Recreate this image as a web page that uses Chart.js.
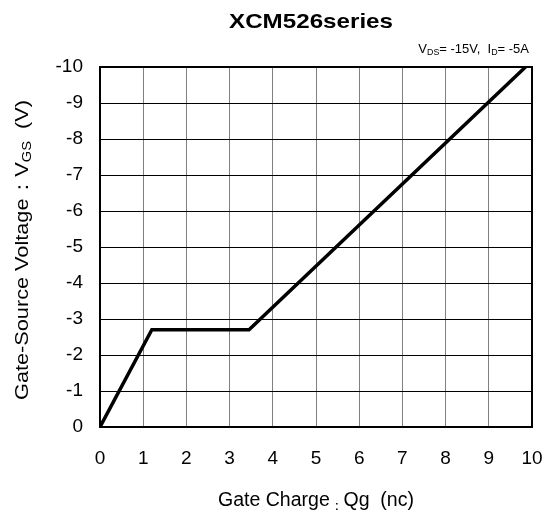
<!DOCTYPE html>
<html>
<head>
<meta charset="utf-8">
<script src="https://cdn.jsdelivr.net/npm/chart.js@4.4.0/dist/chart.umd.min.js"></script>
<style>
  html, body { margin: 0; padding: 0; background: #fff; }
  #wrap { width: 547px; height: 514px; }
</style>
</head>
<body>
<div id="wrap"><canvas id="gateChart" width="547" height="514"></canvas></div>
<script>
// Gate charge curve (nC vs V)
const chargeQg = [0, 1.2, 3.45, 9.85];
const voltageVgs = [0, -2.7, -2.7, -10];
const xTicks = [0, 1, 2, 3, 4, 5, 6, 7, 8, 9, 10];
const yTicks = [0, -1, -2, -3, -4, -5, -6, -7, -8, -9, -10];

const FONT = "'Liberation Sans', Arial, sans-serif";

// text pieces, subscripts smaller and lowered; stretched to a given width
function richWidth(ctx, parts, size, weight) {
    let w = 0;
    parts.forEach(p => {
        ctx.font = `${weight || ''} ${p.sub ? size * 0.68 : size}px ${FONT}`;
        w += ctx.measureText(p.t).width;
    });
    return w;
}
function drawFitted(ctx, parts, x, y, size, width, weight) {
    const natural = richWidth(ctx, parts, size, weight);
    ctx.save();
    ctx.translate(x, y);
    ctx.scale(width ? width / natural : 1, 1);
    let cx = 0;
    parts.forEach(p => {
        const s = p.sub ? size * 0.68 : size;
        ctx.font = `${weight || ''} ${s}px ${FONT}`;
        ctx.fillText(p.t, cx, p.sub ? size * 0.18 : 0);
        cx += ctx.measureText(p.t).width;
    });
    ctx.restore();
}

const labelsPlugin = {
    id: 'labels',
    afterDraw(chart) {
        const ctx = chart.ctx;
        ctx.save();
        ctx.fillStyle = '#000';
        ctx.textBaseline = 'alphabetic';
        ctx.textAlign = 'left';

        drawFitted(ctx, [{t: 'XCM526series'}], 229, 28, 21, 164, 'bold');

        const cond = [{t: 'V'}, {t: 'DS', sub: true}, {t: '= -15V,  I'}, {t: 'D', sub: true}, {t: '= -5A'}];
        drawFitted(ctx, cond, 529 - richWidth(ctx, cond, 13), 53, 13);

        drawFitted(ctx, [{t: 'Gate Charge'}, {t: '：', sub: true}, {t: 'Qg  (nc)'}], 218, 506, 20, 196);

        // y axis title, rotated
        ctx.translate(28, 250);
        ctx.rotate(-Math.PI / 2);
        drawFitted(ctx, [{t: 'Gate-Source Voltage：V'}, {t: 'GS', sub: true}, {t: '  (V)'}],
            -150, 0, 19, 300);
        ctx.restore();
    }
};

new Chart(document.getElementById('gateChart'), {
    type: 'line',
    data: {
        datasets: [{
            data: chargeQg.map((q, i) => ({x: q, y: voltageVgs[i]})),
            borderColor: '#000',
            borderWidth: 3.5,
            pointRadius: 0,
            tension: 0,
            fill: false
        }]
    },
    options: {
        responsive: false,
        animation: false,
        devicePixelRatio: 1,
        layout: { padding: { top: 67, right: 15, left: 0, bottom: 0 } },
        plugins: { legend: { display: false }, tooltip: { enabled: false } },
        scales: {
            x: {
                type: 'linear',
                min: 0, max: 10,
                afterFit: s => { s.height = 87; s.paddingLeft = 0; s.paddingRight = 0; },
                afterBuildTicks: s => { s.ticks = xTicks.map(v => ({value: v})); },
                grid: { color: '#808080', lineWidth: 1, drawTicks: false },
                border: { color: '#000', width: 2 },
                ticks: { color: '#000', font: { family: FONT, size: 19 }, padding: 20, maxRotation: 0 }
            },
            y: {
                type: 'linear',
                min: -10, max: 0,
                reverse: true,
                afterFit: s => { s.width = 100; s.paddingTop = 0; s.paddingBottom = 0; },
                afterBuildTicks: s => { s.ticks = yTicks.map(v => ({value: v})); },
                grid: { color: '#000', lineWidth: 1, drawTicks: false },
                border: { color: '#000', width: 2 },
                ticks: { color: '#000', font: { family: FONT, size: 19 }, padding: 17 }
            }
        }
    },
    plugins: [labelsPlugin, {
        id: 'frame',
        afterDatasetsDraw(chart) {
            const {ctx, chartArea: a} = chart;
            ctx.save();
            ctx.strokeStyle = '#000';
            ctx.lineWidth = 2;
            ctx.strokeRect(a.left, a.top, a.right - a.left, a.bottom - a.top);
            ctx.restore();
        }
    }]
});
</script>
</body>
</html>
